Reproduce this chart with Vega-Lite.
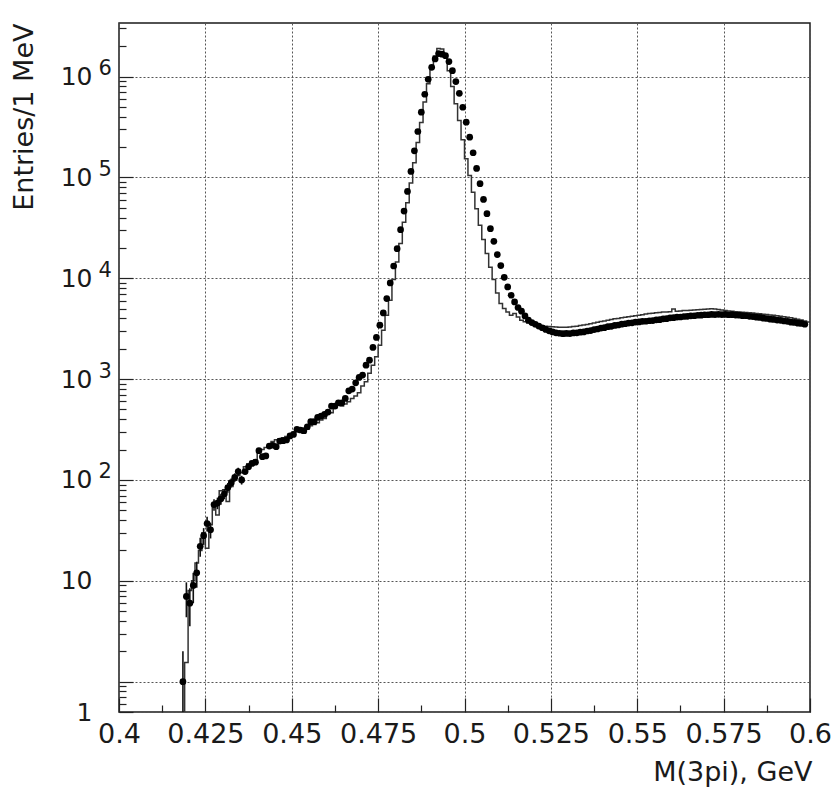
{
  "$schema": "https://vega.github.io/schema/vega-lite/v6.json",
  "width": 691,
  "height": 689,
  "autosize": {"type": "none"},
  "padding": {"left": 119, "top": 23, "right": 21, "bottom": 84},
  "background": "white",
  "config": {
    "view": {"stroke": "#1a1a1a", "strokeWidth": 1.5},
    "axis": {
      "labelFont": "DejaVu Sans", "titleFont": "DejaVu Sans",
      "labelColor": "#1a1a1a", "titleColor": "#1a1a1a", "titleFontWeight": "normal",
      "labelFlush": false, "labelOverlap": false, "domain": false,
      "tickColor": "#222222", "tickWidth": 1.2,
      "gridColor": "#555555", "gridDash": [2, 2], "gridWidth": 1
    }
  },
  "datasets": {
    "hist": [
      {"x":0.418,"y":0.4},{"x":0.419,"y":1.55},{"x":0.420,"y":8},{"x":0.421,"y":10},{"x":0.422,"y":15},{"x":0.423,"y":20},{"x":0.424,"y":30},{"x":0.425,"y":21},{"x":0.426,"y":36},{"x":0.427,"y":57},{"x":0.428,"y":45},{"x":0.429,"y":78},
      {"x":0.430,"y":80},{"x":0.431,"y":61},{"x":0.432,"y":86},{"x":0.433,"y":100},{"x":0.434,"y":110},{"x":0.435,"y":118},{"x":0.436,"y":135},{"x":0.437,"y":145},{"x":0.438,"y":152},{"x":0.439,"y":158},
      {"x":0.440,"y":190},{"x":0.441,"y":200},{"x":0.442,"y":210},{"x":0.443,"y":220},{"x":0.444,"y":240},{"x":0.445,"y":250},{"x":0.446,"y":255},{"x":0.447,"y":262},{"x":0.448,"y":270},{"x":0.449,"y":285},
      {"x":0.450,"y":295},{"x":0.451,"y":305},{"x":0.452,"y":300},{"x":0.453,"y":290},{"x":0.454,"y":318},{"x":0.455,"y":345},{"x":0.456,"y":355},{"x":0.457,"y":370},{"x":0.458,"y":393},{"x":0.459,"y":408},
      {"x":0.460,"y":475},{"x":0.461,"y":464},{"x":0.462,"y":513},{"x":0.463,"y":553},{"x":0.464,"y":541},{"x":0.465,"y":565},{"x":0.466,"y":596},{"x":0.467,"y":644},{"x":0.468,"y":679},{"x":0.469,"y":731},
      {"x":0.470,"y":853},{"x":0.471,"y":940},{"x":0.472,"y":1146},{"x":0.473,"y":1376},{"x":0.474,"y":1663},{"x":0.475,"y":2172},{"x":0.476,"y":3055},{"x":0.477,"y":4300},{"x":0.478,"y":6055},{"x":0.479,"y":9710},
      {"x":0.480,"y":14500},{"x":0.481,"y":22070},{"x":0.482,"y":36000},{"x":0.483,"y":56000},{"x":0.484,"y":88000},{"x":0.485,"y":140000},{"x":0.486,"y":222000},{"x":0.487,"y":350000},{"x":0.488,"y":560000},{"x":0.489,"y":850000},
      {"x":0.490,"y":1200000},{"x":0.491,"y":1600000},{"x":0.492,"y":1900000},{"x":0.493,"y":1880000},{"x":0.494,"y":1553000},{"x":0.495,"y":1146000},{"x":0.496,"y":796000},{"x":0.497,"y":537000},{"x":0.498,"y":367000},{"x":0.499,"y":236000},
      {"x":0.500,"y":153000},{"x":0.501,"y":104700},{"x":0.502,"y":71500},{"x":0.503,"y":49000},{"x":0.504,"y":33500},{"x":0.505,"y":24200},{"x":0.506,"y":17600},{"x":0.507,"y":12900},{"x":0.508,"y":9710},{"x":0.509,"y":7150},
      {"x":0.510,"y":5620},{"x":0.511,"y":5010},{"x":0.512,"y":4640},{"x":0.513,"y":4300},{"x":0.514,"y":4470},{"x":0.515,"y":4140},{"x":0.516,"y":3838},{"x":0.517,"y":3700},{"x":0.518,"y":3600},{"x":0.519,"y":3520},
      {"x":0.520,"y":3470},{"x":0.521,"y":3420},{"x":0.522,"y":3380},{"x":0.523,"y":3350},{"x":0.524,"y":3330},{"x":0.525,"y":3300},{"x":0.526,"y":3280},{"x":0.527,"y":3260},{"x":0.528,"y":3260},{"x":0.529,"y":3270},
      {"x":0.530,"y":3290},{"x":0.531,"y":3320},{"x":0.532,"y":3350},{"x":0.533,"y":3400},{"x":0.534,"y":3440},{"x":0.535,"y":3490},{"x":0.536,"y":3550},{"x":0.537,"y":3600},{"x":0.538,"y":3660},{"x":0.539,"y":3720},
      {"x":0.540,"y":3780},{"x":0.541,"y":3830},{"x":0.542,"y":3900},{"x":0.543,"y":3960},{"x":0.544,"y":4000},{"x":0.545,"y":4060},{"x":0.546,"y":4110},{"x":0.547,"y":4160},{"x":0.548,"y":4200},{"x":0.549,"y":4250},
      {"x":0.550,"y":4300},{"x":0.551,"y":4350},{"x":0.552,"y":4420},{"x":0.553,"y":4470},{"x":0.554,"y":4500},{"x":0.555,"y":4540},{"x":0.556,"y":4580},{"x":0.557,"y":4620},{"x":0.558,"y":4640},{"x":0.559,"y":4650},
      {"x":0.560,"y":4950},{"x":0.561,"y":4720},{"x":0.562,"y":4750},{"x":0.563,"y":4780},{"x":0.564,"y":4800},{"x":0.565,"y":4830},{"x":0.566,"y":4860},{"x":0.567,"y":4880},{"x":0.568,"y":4900},{"x":0.569,"y":4930},
      {"x":0.570,"y":4960},{"x":0.571,"y":4990},{"x":0.572,"y":4960},{"x":0.573,"y":4900},{"x":0.574,"y":4850},{"x":0.575,"y":4780},{"x":0.576,"y":4740},{"x":0.577,"y":4700},{"x":0.578,"y":4660},{"x":0.579,"y":4640},
      {"x":0.580,"y":4610},{"x":0.581,"y":4580},{"x":0.582,"y":4550},{"x":0.583,"y":4520},{"x":0.584,"y":4480},{"x":0.585,"y":4440},{"x":0.586,"y":4400},{"x":0.587,"y":4370},{"x":0.588,"y":4330},{"x":0.589,"y":4290},
      {"x":0.590,"y":4250},{"x":0.591,"y":4210},{"x":0.592,"y":4160},{"x":0.593,"y":4110},{"x":0.594,"y":4060},{"x":0.595,"y":4000},{"x":0.596,"y":3920},{"x":0.597,"y":3850},{"x":0.598,"y":3760},{"x":0.599,"y":3680},
      {"x":0.600,"y":3680}
    ],
    "pts": [
      {"x":0.4185,"y":1,"lo":0.01,"hi":2},{"x":0.4195,"y":7,"lo":4.35,"hi":9.65},{"x":0.4205,"y":6,"lo":3.55,"hi":8.45},{"x":0.4215,"y":9,"lo":6,"hi":12},{"x":0.4225,"y":12,"lo":8.54,"hi":15.46},
      {"x":0.4235,"y":22,"lo":17.3,"hi":26.7},{"x":0.4245,"y":28,"lo":22.7,"hi":33.3},{"x":0.4255,"y":37,"lo":30.9,"hi":43.1},{"x":0.4265,"y":32,"lo":26.3,"hi":37.7},{"x":0.4275,"y":57,"lo":49.5,"hi":64.5},
      {"x":0.4285,"y":59,"lo":51.3,"hi":66.7},{"x":0.4295,"y":65,"lo":56.9,"hi":73.1},{"x":0.4305,"y":73,"lo":64.5,"hi":81.5},{"x":0.4315,"y":84,"lo":74.8,"hi":93.2},{"x":0.4325,"y":94,"lo":84.3,"hi":103.7},
      {"x":0.4335,"y":106,"lo":95.7,"hi":116.3},{"x":0.4345,"y":121,"lo":110,"hi":132},{"x":0.4355,"y":100,"lo":90,"hi":110},
      {"x":0.4365,"y":121},{"x":0.4375,"y":135},{"x":0.4385,"y":146},{"x":0.4395,"y":150},
      {"x":0.4405,"y":195},{"x":0.4415,"y":170},{"x":0.4425,"y":173},{"x":0.4435,"y":217},{"x":0.4445,"y":221},{"x":0.4455,"y":214},{"x":0.4465,"y":243},{"x":0.4475,"y":245},{"x":0.4485,"y":249},{"x":0.4495,"y":273},
      {"x":0.4505,"y":283},{"x":0.4515,"y":318},{"x":0.4525,"y":313},{"x":0.4535,"y":308},{"x":0.4545,"y":337},{"x":0.4555,"y":378},{"x":0.4565,"y":378},{"x":0.4575,"y":418},{"x":0.4585,"y":430},{"x":0.4595,"y":447},
      {"x":0.4605,"y":471},{"x":0.4615,"y":541},{"x":0.4625,"y":541},{"x":0.4635,"y":583},{"x":0.4645,"y":583},{"x":0.4655,"y":644},{"x":0.4665,"y":766},{"x":0.4675,"y":796},{"x":0.4685,"y":919},{"x":0.4695,"y":1040},
      {"x":0.4705,"y":1096},{"x":0.4715,"y":1376},{"x":0.4725,"y":1542},{"x":0.4735,"y":2061},{"x":0.4745,"y":2588},{"x":0.4755,"y":3427},{"x":0.4765,"y":4536},{"x":0.4775,"y":6295},{"x":0.4785,"y":8984},{"x":0.4795,"y":13240},
      {"x":0.4805,"y":19680},{"x":0.4815,"y":30350},{"x":0.4825,"y":46380},{"x":0.4835,"y":72640},{"x":0.4845,"y":114600},{"x":0.4855,"y":183700},{"x":0.4865,"y":285400},{"x":0.4875,"y":443300},{"x":0.4885,"y":668000},{"x":0.4895,"y":940000},
      {"x":0.4905,"y":1236000},{"x":0.4915,"y":1497000},{"x":0.4925,"y":1690000},{"x":0.4935,"y":1670000},{"x":0.4945,"y":1614000},{"x":0.4955,"y":1408000},{"x":0.4965,"y":1146000},{"x":0.4975,"y":892000},{"x":0.4985,"y":683000},{"x":0.4995,"y":496800},
      {"x":0.5005,"y":353000},{"x":0.5015,"y":250600},{"x":0.5025,"y":175700},{"x":0.5035,"y":122800},{"x":0.5045,"y":86660},{"x":0.5055,"y":60550},{"x":0.5065,"y":43710},{"x":0.5075,"y":31060},{"x":0.5085,"y":23240},{"x":0.5095,"y":17170},
      {"x":0.5105,"y":13360},{"x":0.5115,"y":10230},{"x":0.5125,"y":8200},{"x":0.5135,"y":6790},{"x":0.5145,"y":5825},{"x":0.5155,"y":5130},{"x":0.5165,"y":4713},{"x":0.5175,"y":4234},{"x":0.5185,"y":3838},{"x":0.5195,"y":3641},
      {"x":0.5205,"y":3500},{"x":0.5215,"y":3360},{"x":0.5225,"y":3230},{"x":0.5235,"y":3110},{"x":0.5245,"y":3010},{"x":0.5255,"y":2940},{"x":0.5265,"y":2880},{"x":0.5275,"y":2850},{"x":0.5285,"y":2820},{"x":0.5295,"y":2840},
      {"x":0.5305,"y":2830},{"x":0.5315,"y":2870},{"x":0.5325,"y":2880},{"x":0.5335,"y":2920},{"x":0.5345,"y":2940},{"x":0.5355,"y":3000},{"x":0.5365,"y":3030},{"x":0.5375,"y":3100},{"x":0.5385,"y":3140},{"x":0.5395,"y":3210},
      {"x":0.5405,"y":3240},{"x":0.5415,"y":3310},{"x":0.5425,"y":3340},{"x":0.5435,"y":3410},{"x":0.5445,"y":3440},{"x":0.5455,"y":3510},{"x":0.5465,"y":3540},{"x":0.5475,"y":3600},{"x":0.5485,"y":3620},{"x":0.5495,"y":3680},
      {"x":0.5505,"y":3690},{"x":0.5515,"y":3740},{"x":0.5525,"y":3750},{"x":0.5535,"y":3790},{"x":0.5545,"y":3810},{"x":0.5555,"y":3870},{"x":0.5565,"y":3890},{"x":0.5575,"y":3960},{"x":0.5585,"y":3980},{"x":0.5595,"y":4050},
      {"x":0.5605,"y":4070},{"x":0.5615,"y":4120},{"x":0.5625,"y":4130},{"x":0.5635,"y":4180},{"x":0.5645,"y":4190},{"x":0.5655,"y":4240},{"x":0.5665,"y":4250},{"x":0.5675,"y":4300},{"x":0.5685,"y":4310},{"x":0.5695,"y":4350},
      {"x":0.5705,"y":4350},{"x":0.5715,"y":4380},{"x":0.5725,"y":4370},{"x":0.5735,"y":4390},{"x":0.5745,"y":4370},{"x":0.5755,"y":4380},{"x":0.5765,"y":4350},{"x":0.5775,"y":4360},{"x":0.5785,"y":4320},{"x":0.5795,"y":4310},
      {"x":0.5805,"y":4260},{"x":0.5815,"y":4250},{"x":0.5825,"y":4190},{"x":0.5835,"y":4170},{"x":0.5845,"y":4110},{"x":0.5855,"y":4090},{"x":0.5865,"y":4020},{"x":0.5875,"y":3990},{"x":0.5885,"y":3930},{"x":0.5895,"y":3910},
      {"x":0.5905,"y":3850},{"x":0.5915,"y":3830},{"x":0.5925,"y":3770},{"x":0.5935,"y":3740},{"x":0.5945,"y":3670},{"x":0.5955,"y":3650},{"x":0.5965,"y":3590},{"x":0.5975,"y":3570},{"x":0.5985,"y":3500}
    ]
  },
  "layer": [
    {
      "data": {"name": "hist"},
      "mark": {"type": "line", "interpolate": "step-after", "color": "#333333", "strokeWidth": 1.5, "clip": true},
      "encoding": {
        "x": {"field": "x", "type": "quantitative",
          "scale": {"domain": [0.4, 0.6], "nice": false, "zero": false},
          "axis": {"orient": "bottom", "values": [0.4, 0.425, 0.45, 0.475, 0.5, 0.525, 0.55, 0.575, 0.6],
            "grid": true, "tickSize": -14, "labelPadding": 36, "labelBaseline": "middle", "labelFontSize": 27,
            "labelExpr": "'' + datum.value",
            "title": "M(3pi), GeV", "titleFontSize": 27, "titleX": 693, "titleY": 68, "titleAlign": "right", "titleBaseline": "alphabetic"}},
        "y": {"field": "y", "type": "quantitative",
          "scale": {"type": "log", "domain": [0.5, 3400000], "nice": false},
          "axis": {"orient": "left", "values": [0.5, 1, 10, 100, 1000, 10000, 100000, 1000000],
            "grid": true, "tickSize": -14, "labelPadding": 41, "labelAlign": "right", "labelBaseline": "middle", "labelFontSize": 25,
            "labelExpr": "datum.value < 0.9 ? '1' : (datum.value < 2 ? '' : '10')",
            "title": "Entries/1 MeV", "titleFontSize": 27, "titleAngle": 270, "titleX": -87, "titleY": 0, "titleAlign": "right", "titleBaseline": "alphabetic"}}
      }
    },
    {
      "data": {"name": "pts"},
      "mark": {"type": "rule", "color": "#111111", "strokeWidth": 1.6, "clip": true},
      "encoding": {
        "x": {"field": "x", "type": "quantitative", "scale": {"domain": [0.4, 0.6], "nice": false, "zero": false}, "axis": null},
        "y": {"field": "lo", "type": "quantitative", "scale": {"type": "log", "domain": [0.5, 3400000], "nice": false},
          "axis": {"orient": "left", "values": [100, 1000, 10000, 100000, 1000000], "grid": false, "ticks": false,
            "labelPadding": 21, "labelAlign": "left", "labelBaseline": "middle", "labelFontSize": 21, "labelOffset": -8,
            "labelExpr": "'' + round(log(datum.value) / LN10)", "title": null}},
        "y2": {"field": "hi"}
      }
    },
    {
      "data": {"name": "pts"},
      "mark": {"type": "point", "filled": true, "shape": "circle", "color": "#000000", "size": 45, "opacity": 1},
      "encoding": {
        "x": {"field": "x", "type": "quantitative", "scale": {"domain": [0.4, 0.6], "nice": false, "zero": false},
          "axis": {"orient": "bottom", "values": [0.4125, 0.4375, 0.4625, 0.4875, 0.5125, 0.5375, 0.5625, 0.5875],
            "grid": false, "labels": false, "tickSize": -7, "title": null}},
        "y": {"field": "y", "type": "quantitative", "scale": {"type": "log", "domain": [0.5, 3400000], "nice": false},
          "axis": {"orient": "left", "grid": false, "labels": false, "tickSize": -7, "title": null,
            "values": [0.6, 0.7, 0.8, 0.9, 2, 3, 4, 5, 6, 7, 8, 9, 20, 30, 40, 50, 60, 70, 80, 90, 200, 300, 400, 500, 600, 700, 800, 900,
              2000, 3000, 4000, 5000, 6000, 7000, 8000, 9000, 20000, 30000, 40000, 50000, 60000, 70000, 80000, 90000,
              200000, 300000, 400000, 500000, 600000, 700000, 800000, 900000, 2000000, 3000000]}}
      }
    }
  ],
  "resolve": {"axis": {"x": "independent", "y": "independent"}}
}
